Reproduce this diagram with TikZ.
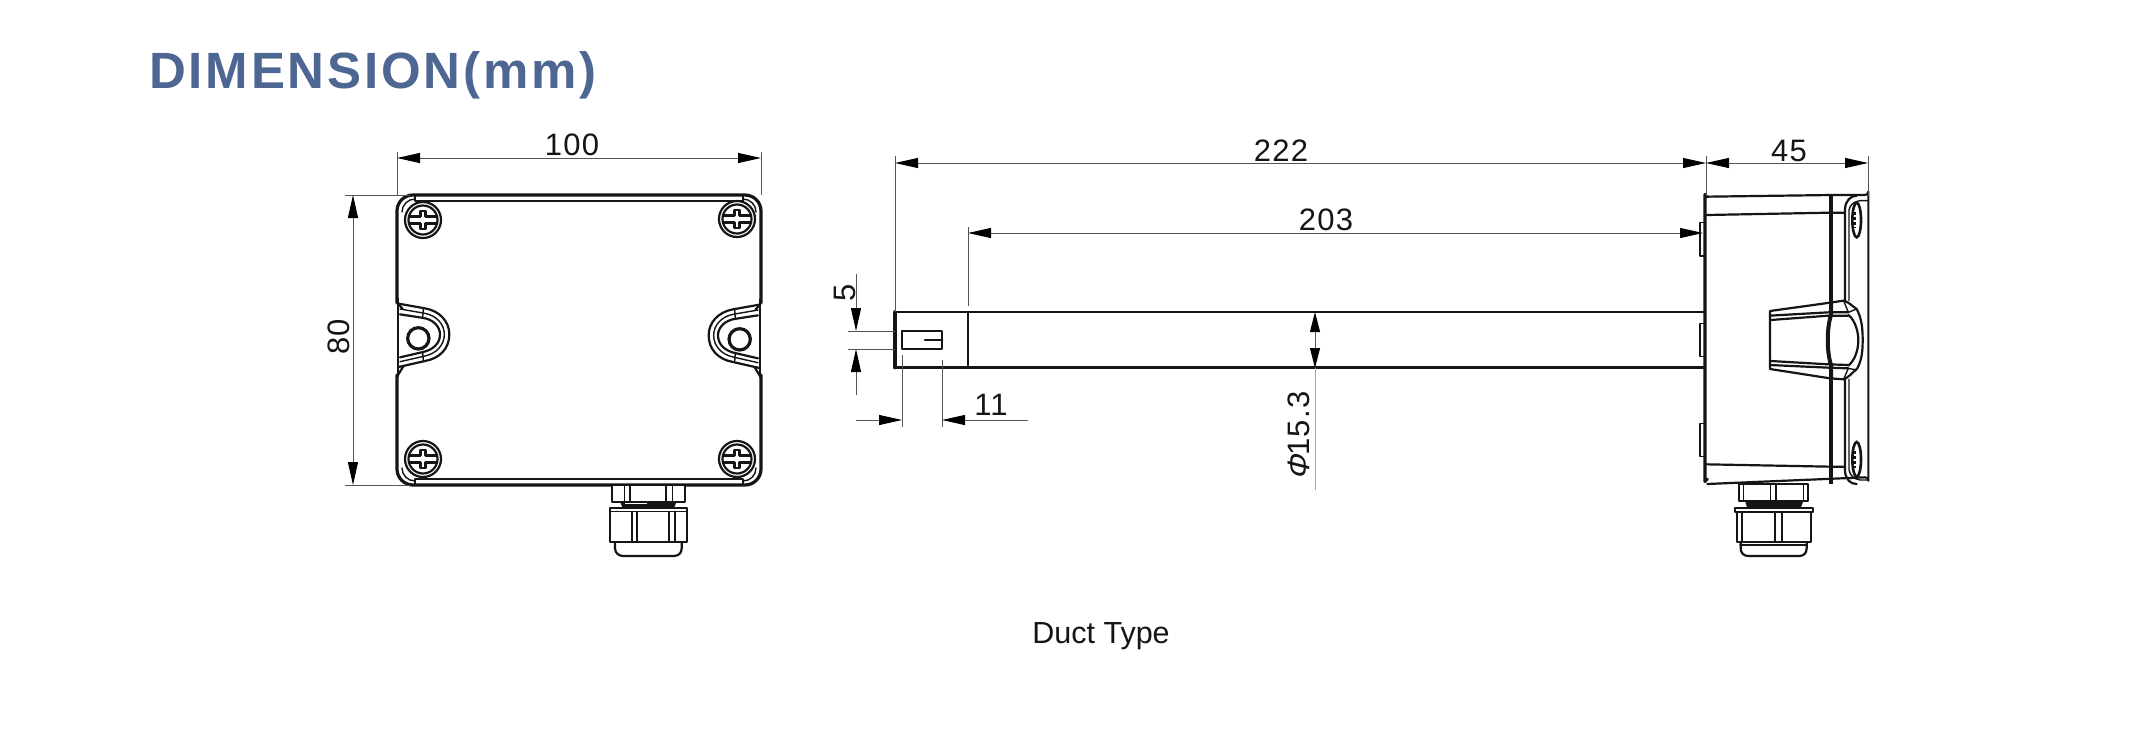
\documentclass[tikz,border=0pt]{standalone}
\usepackage{fontspec}
\setmainfont{Liberation Sans}
\usetikzlibrary{arrows.meta}
\definecolor{titleblue}{HTML}{4E6692}
\definecolor{dimgrey}{HTML}{555555}
\definecolor{inkc}{HTML}{151515}
\newfontfamily\titlefont[LetterSpace=5.5]{Liberation Sans}
\newfontfamily\dimfont[LetterSpace=4]{Liberation Sans}
\tikzset{
  heavy/.style={draw=inkc,line width=3.2pt,line cap=round,line join=round},
  body/.style={draw=inkc,line width=2.2pt,line cap=round,line join=round},
  fine/.style={draw=inkc,line width=1.4pt,line cap=round,line join=round},
  extline/.style={draw=dimgrey,line width=1pt},
  dimline/.style={draw=dimgrey,line width=1pt},
  dimboth/.style={dimline,{Triangle[length=23pt,width=10pt,black]}-{Triangle[length=23pt,width=10pt,black]}},
  dimend/.style={dimline,-{Triangle[length=23pt,width=10pt,black]}},
  dimtext/.style={font=\dimfont\fontsize{31}{31}\selectfont,text=inkc,inner sep=0pt},
  zoomed/.style={x=0.33333pt,y=-0.33333pt}
}
\newcommand{\earshape}{%
  \path[fill=white] (24,30) -- (105,40) -- (178,118) -- (105,198) -- (24,215) -- cycle;
  \draw[body] (26,26) -- (105,40) .. controls (150,48) and (178,80) .. (178,118) .. controls (178,160) and (150,190) .. (105,198) -- (26,216);
  \draw[fine] (30,42) -- (105,55) .. controls (140,62) and (163,88) .. (163,118) .. controls (163,150) and (140,175) .. (105,183) -- (30,200);
  \draw[body] (30,58) -- (95,68) .. controls (130,72) and (150,95) .. (150,118) .. controls (150,145) and (130,165) .. (95,172) -- (30,187);
  \draw[fine] (100,41) -- (98,68) (100,197) -- (98,172);
  \draw[fine] (24,10) -- (24,245);
  \draw[body] (24,25) -- (38,42) (24,240) -- (40,214);
  \draw[heavy] (85,130) circle (32);
}
\newcommand{\screwmark}[2]{%
  \draw[body] (#1,#2) circle (18pt);
  \draw[body] (#1,#2) circle (14.5pt);
  \draw[body] (#1-14,#2-3.5) -- (#1-2.5,#2-3.5) -- (#1-2.5,#2-9) (#1+2.5,#2-9) -- (#1+2.5,#2-3.5) -- (#1+14,#2-3.5);
  \draw[body] (#1-14,#2+3.5) -- (#1-2.5,#2+3.5) -- (#1-2.5,#2+9) (#1+2.5,#2+9) -- (#1+2.5,#2+3.5) -- (#1+14,#2+3.5);
  \draw[fine] (#1-2.5,#2-9) -- (#1+2.5,#2-9) (#1-2.5,#2+9) -- (#1+2.5,#2+9);
}
\begin{document}
\begin{tikzpicture}[x=1pt,y=-1pt]
\path[fill=white] (0,0) rectangle (2147,732);
\useasboundingbox (0,0) rectangle (2147,732);

% title and caption
\node[anchor=west,font=\titlefont\bfseries\fontsize{51}{51}\selectfont,text=titleblue,inner sep=0pt] (title) at (149,75) {DIMENSION(mm)};
\node[font=\fontsize{30.5}{30.5}\selectfont,text=inkc,inner sep=0pt] (caption) at (1101,636) {Duct Type};

% ---------- front view ----------
\draw[heavy] (397,303) -- (397,211) arc[start angle=180,end angle=90,radius=16pt] -- (745,195) arc[start angle=90,end angle=0,radius=16pt] -- (761,303);
\draw[heavy] (397,375) -- (397,469) arc[start angle=180,end angle=270,radius=16pt] -- (745,485) arc[start angle=270,end angle=360,radius=16pt] -- (761,375);
\draw[body] (415,195) -- (415,201) -- (743,201) -- (743,195);
\draw[body] (415,485) -- (415,479) -- (743,479) -- (743,485);
\draw[fine] (402,212) arc[start angle=180,end angle=90,radius=13pt];
\draw[fine] (756,212) arc[start angle=0,end angle=90,radius=13pt];
\draw[fine] (402,468) arc[start angle=180,end angle=270,radius=13pt];
\draw[fine] (756,468) arc[start angle=360,end angle=270,radius=13pt];
\foreach \cx/\cy in {423/220,737/219,423/459,737/459} {\screwmark{\cx}{\cy}}
\begin{scope}[shift={(390,295)},zoomed]\earshape\end{scope}
\begin{scope}[shift={(768,296)},x=-0.33333pt,y=-0.33333pt]\earshape\end{scope}

% front gland
\begin{scope}[shift={(580,470)},zoomed]
  \draw[body,fill=white] (95,45) rectangle (315,95);
  \draw[fine] (133,45) -- (133,95) (150,45) -- (150,95) (258,45) -- (258,95) (278,45) -- (278,95);
  \path[fill=inkc] (120,95) -- (290,95) -- (282,114) -- (128,114) -- cycle;
  \path[fill=white] (135,99) rectangle (200,103);
  \draw[body,fill=white] (105,215) -- (105,235) .. controls (105,250) and (118,258) .. (130,258) -- (280,258) .. controls (295,258) and (305,250) .. (305,235) -- (305,215);
  \draw[body,fill=white] (90,115) rectangle (320,215);
  \draw[fine] (90,125) -- (320,125);
  \draw[body] (155,125) -- (155,215) (170,125) -- (170,215) (267,125) -- (267,215) (285,125) -- (285,215);
\end{scope}

% dimensions of the front view
\coordinate (wl) at (397,158); \coordinate (wr) at (761,158);
\coordinate (wlf) at (397,152); \coordinate (wlb) at (397,195);
\coordinate (wrf) at (761,152); \coordinate (wrb) at (761,195);
\draw[extline] (wlf) -- (wlb); \draw[extline] (wrf) -- (wrb);
\draw[dimboth] (wl) -- (wr);
\node[dimtext] (t100) at (572,145) {100};
\coordinate (ht) at (353,195); \coordinate (hb) at (353,485);
\coordinate (hte) at (345,195); \coordinate (htb) at (410,195);
\coordinate (hbe) at (345,485); \coordinate (hbb) at (410,485);
\draw[extline] (hte) -- (htb); \draw[extline] (hbe) -- (hbb);
\draw[dimboth] (ht) -- (hb);
\node[dimtext,rotate=90] (t80) at (339,337) {80};

% ---------- side view ----------
\begin{scope}[shift={(1660,130)},zoomed]
  \draw[fine,fill=white] (120,278) rectangle (135,378);
  \draw[fine,fill=white] (120,580) rectangle (135,680);
  \draw[fine,fill=white] (120,880) rectangle (135,980);
  \draw[body] (142,200) -- (515,195) -- (615,195) arc[start angle=90,end angle=0,radius=10] -- (625,1052) arc[start angle=0,end angle=-90,radius=10] -- (142,1062);
  \draw[heavy] (142,200) arc[start angle=90,end angle=180,radius=7] -- (135,1055) arc[start angle=180,end angle=270,radius=7];
  \draw[body] (140,255) -- (510,248) -- (555,248);
  \draw[body] (140,1003) -- (510,1010) -- (555,1010);
  \draw[line width=4pt,draw=inkc] (513,195) -- (513,517);
  \draw[line width=4pt,draw=inkc] (513,738) -- (513,1062);
  \draw[body] (555,512) -- (555,235) .. controls (558,212) and (570,198) .. (590,197);
  \draw[fine] (567,512) -- (567,240) .. controls (570,225) and (580,215) .. (600,212) -- (625,212);
  \draw[body] (555,748) -- (555,1025) .. controls (558,1048) and (570,1062) .. (590,1062);
  \draw[fine] (567,748) -- (567,1020) .. controls (570,1035) and (580,1047) .. (600,1050) -- (625,1050);
  \draw[line width=2.6pt,draw=inkc] (590,270) ellipse (13 and 52);
  \draw[line width=2.6pt,draw=inkc] (590,988) ellipse (13 and 52);
  \draw[line width=2.6pt,draw=inkc,dash pattern=on 3pt off 2pt] (583,245) -- (583,295) (583,963) -- (583,1013);
\end{scope}
% hump
\begin{scope}[shift={(1760,285)},zoomed]
  \draw[body,fill=white] (30,78) -- (210,53) -- (250,47) .. controls (265,50) and (275,62) .. (290,72) .. controls (305,100) and (308,130) .. (308,165) .. controls (308,200) and (305,225) .. (292,250) .. controls (275,265) and (265,278) .. (250,283) -- (210,280) -- (30,252) -- cycle;
  \draw[body] (30,92) -- (205,82) -- (265,82);
  \draw[body] (32,105) -- (205,92) -- (265,92);
  \draw[body] (32,228) -- (205,238) -- (265,240);
  \draw[body] (30,240) -- (205,248) -- (265,250);
  \draw[body] (265,90) .. controls (285,105) and (295,140) .. (295,165) .. controls (295,195) and (285,225) .. (265,242);
  \draw[fine] (252,50) -- (265,82) -- (290,72) (252,280) -- (265,250) -- (290,255);
  \draw[line width=4pt,draw=inkc] (213,52) -- (213,90) .. controls (200,130) and (200,200) .. (213,240) -- (213,282);
\end{scope}
% side gland
\begin{scope}[shift={(1660,130)},zoomed]
  \draw[body,fill=white] (238,1062) rectangle (445,1112);
  \draw[fine] (250,1062) -- (250,1112) (332,1062) -- (332,1112) (348,1062) -- (348,1112) (430,1062) -- (430,1112);
  \path[fill=inkc] (255,1112) -- (430,1112) -- (422,1135) -- (262,1135) -- cycle;
  \draw[body,fill=white] (242,1235) -- (242,1255) .. controls (242,1270) and (252,1278) .. (265,1278) -- (418,1278) .. controls (430,1278) and (440,1270) .. (440,1255) -- (440,1235);
  \draw[fine] (240,1245) -- (442,1245);
  \draw[body,fill=white] (230,1147) rectangle (452,1235);
  \draw[body,fill=white] (225,1135) rectangle (458,1147);
  \draw[body] (247,1147) -- (247,1235) (345,1147) -- (345,1235) (365,1147) -- (365,1235);
\end{scope}

% probe
\coordinate (tipnw) at (895,312); \coordinate (tipsw) at (895,367.5);
\coordinate (tipne) at (968,312); \coordinate (tipse) at (968,367.5);
\coordinate (pipene) at (1705,312); \coordinate (pipese) at (1705,367.5);
\draw[body] (tipnw) -- (pipene);
\draw[body] (tipsw) -- (pipese);
\draw[line width=3.6pt,draw=inkc,line cap=round] (tipnw) -- (tipsw);
\draw[fine] (tipne) -- (tipse);
\begin{scope}[shift={(820,270)},zoomed]
  \draw[body] (245,182) rectangle (367,237);
  \draw[body] (315,209) -- (367,209);
\end{scope}

% dimensions of the side view
\coordinate (a222) at (895,163); \coordinate (b222) at (1706,163);
\coordinate (c45) at (1868,163);
\coordinate (e222a) at (895,156); \coordinate (e222c) at (1706,156); \coordinate (e222d) at (1706,196);
\coordinate (e45a) at (1868,156); \coordinate (e45b) at (1868,196);
\draw[extline] (e222a) -- (tipnw);
\draw[extline] (e222c) -- (e222d);
\draw[extline] (e45a) -- (e45b);
\draw[dimboth] (a222) -- (b222);
\draw[dimboth] (b222) -- (c45);
\node[dimtext] (t222) at (1281,151) {222};
\node[dimtext] (t45) at (1789,151) {45};
\coordinate (a203) at (968,233); \coordinate (b203) at (1703,233);
\coordinate (e203a) at (968,227); \coordinate (e203b) at (968,306);
\draw[extline] (e203a) -- (e203b);
\draw[dimboth] (a203) -- (b203);
\node[dimtext] (t203) at (1326,220) {203};
% 5
\coordinate (f5a) at (856,274); \coordinate (f5t) at (856,331);
\coordinate (f5b) at (856,395); \coordinate (f5u) at (856,349);
\coordinate (f5l) at (848,331); \coordinate (f5r) at (895,331);
\coordinate (f5m) at (848,349); \coordinate (f5n) at (895,349);
\draw[extline] (f5l) -- (f5r); \draw[extline] (f5m) -- (f5n);
\draw[dimend] (f5a) -- (f5t); \draw[dimend] (f5b) -- (f5u);
\node[dimtext,rotate=90] (t5) at (845,293) {5};
% 11
\coordinate (g1a) at (856,420); \coordinate (g1t) at (902,420);
\coordinate (g2a) at (1028,420); \coordinate (g2t) at (942,420);
\coordinate (g1u) at (902,355); \coordinate (g1d) at (902,427);
\coordinate (g2u) at (942,360); \coordinate (g2d) at (942,427);
\draw[extline] (g1u) -- (g1d); \draw[extline] (g2u) -- (g2d);
\draw[dimend] (g1a) -- (g1t); \draw[dimend] (g2a) -- (g2t);
\node[dimtext] (t11) at (991,405) {11};
% diameter
\coordinate (da) at (1315,490); \coordinate (dt) at (1315,368);
\coordinate (dm) at (1315,339); \coordinate (du) at (1315,312);
\draw[dimline,draw=gray!70] (da) -- (dt);
\draw[dimline] (dt) -- (dm);
\draw[-{Triangle[length=20pt,width=10pt,black]},dimline] (dm) -- (du);
\draw[-{Triangle[length=20pt,width=10pt,black]},dimline] (dm) -- (dt);
\node[dimtext,rotate=90] (tphi) at (1299,436) {{\addfontfeature{FakeSlant=0.25}Φ}15.3};
\end{tikzpicture}
\end{document}
